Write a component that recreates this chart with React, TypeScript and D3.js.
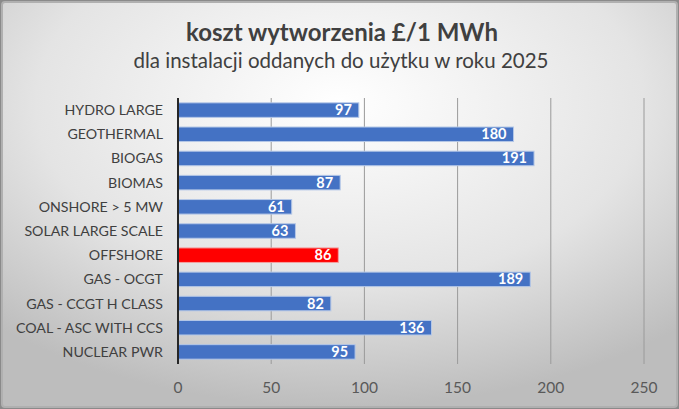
import React from "react";
import * as d3 from "d3";

const categories = [
  "HYDRO LARGE",
  "GEOTHERMAL",
  "BIOGAS",
  "BIOMAS",
  "ONSHORE > 5 MW",
  "SOLAR LARGE SCALE",
  "OFFSHORE",
  "GAS - OCGT ",
  "GAS - CCGT H CLASS",
  "COAL - ASC WITH CCS",
  "NUCLEAR PWR",
];
const values = [97, 180, 191, 87, 61, 63, 86, 189, 82, 136, 95];
const highlighted = ["OFFSHORE"];
const ticks = [0, 50, 100, 150, 200, 250];

const title = "koszt wytworzenia £/1 MWh";
const subtitle = "dla instalacji oddanych do użytku w roku 2025";

const width = 679;
const height = 409;
const font = "Lato, 'Open Sans', sans-serif";

const App = () => {
  const x = d3.scaleLinear().domain([0, 250]).range([178, 644]);
  const y = d3.scaleBand().domain(categories).range([98, 364]).paddingInner(0.4).paddingOuter(0.2);

  return (
    <svg width={width} height={height} style={{position: "absolute", left: 0, top: 0}}>
      <defs>
        <radialGradient id="bg" cx="0.5" cy="0.25" r="0.75">
          <stop offset="0" stopColor="#ffffff"/>
          <stop offset="0.6" stopColor="#e4e4e4"/>
          <stop offset="1" stopColor="#bdbdbd"/>
        </radialGradient>
      </defs>
      <rect x={0} y={0} width={width} height={height} fill="#8a8a8a"/>
      <rect x={2} y={2} width={width - 4} height={height - 4} rx={3} fill="url(#bg)" stroke="#b0b0b0" strokeWidth={2}/>

      <text x={342} y={41} textAnchor="middle" fontFamily={font} fontWeight="bold" fontSize={24} fill="#404040">{title}</text>
      <text x={341} y={68} textAnchor="middle" fontFamily={font} fontSize={20.5} fill="#404040">{subtitle}</text>

      {ticks.slice(1).map(t => (
        <line key={t} x1={x(t)} x2={x(t)} y1={98} y2={364} stroke="#9a9a9a" strokeWidth={1}/>
      ))}
      {ticks.map(t => (
        <text key={t} x={x(t)} y={393} textAnchor="middle" fontFamily={font} fontSize={15.5} fill="#595959">{t}</text>
      ))}

      {categories.map((c, i) => {
        const red = highlighted.includes(c);
        const yy = y(c) as number;
        return (
          <g key={c}>
            <rect x={x(0)} y={yy} width={x(values[i]) - x(0)} height={y.bandwidth()}
                  fill={red ? "#ff0000" : "#4472c4"} stroke={red ? "#f4a0a0" : "#b4c7e7"} strokeWidth={1}/>
            <text x={x(values[i]) - 7} y={yy + y.bandwidth() / 2 + 5} textAnchor="end"
                  fontFamily={font} fontWeight="bold" fontSize={14.5} fill="#ffffff">{values[i]}</text>
            <text x={163} y={yy + y.bandwidth() / 2 + 5} textAnchor="end"
                  fontFamily={font} fontSize={14.2} fill="#404040">{c}</text>
          </g>
        );
      })}
      <line x1={x(0)} x2={x(0)} y1={98} y2={364} stroke="#262626" strokeWidth={2}/>
    </svg>
  );
};

export default App;
